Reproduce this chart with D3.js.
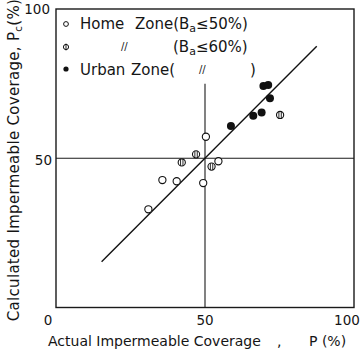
<!DOCTYPE html>
<html>
<head>
<meta charset="utf-8">
<script src="https://cdn.jsdelivr.net/npm/d3@7"></script>
<style>
  body { margin: 0; background: #fff; }
  text { font-family: "DejaVu Sans", sans-serif; fill: #151515; }
</style>
</head>
<body>
<div id="chart"></div>
<script>
// home zone, Ba <= 50% (open circles)
const homeX = [50.3, 54.5, 35.7, 40.5, 49.4, 31.0];
const homeY = [57.2, 49.0, 42.7, 42.3, 41.7, 32.9];
// home zone, Ba <= 60% (hatched circles)
const home60X = [47.0, 42.2, 52.2, 75.2];
const home60Y = [51.3, 48.6, 47.2, 64.5];
// urban zone (filled circles)
const urbanX = [58.7, 66.2, 69.0, 71.8, 69.6, 71.2];
const urbanY = [60.8, 64.2, 65.3, 70.1, 74.2, 74.5];

const fitLine = [[15.3, 15.3], [87.5, 87.5]];
const xTicks = [0, 50, 100];
const yTicks = [50, 100];

const W = 361, H = 350;
const margin = {top: 9, right: 7, bottom: 42.5, left: 56};

const svg = d3.select("#chart").append("svg")
  .attr("width", W).attr("height", H);

const x = d3.scaleLinear().domain([0, 100]).range([margin.left, W - margin.right]);
const y = d3.scaleLinear().domain([0, 100]).range([H - margin.bottom, margin.top]);

// frame
svg.append("rect")
  .attr("x", x(0)).attr("y", y(100))
  .attr("width", x(100) - x(0)).attr("height", y(0) - y(100))
  .attr("fill", "none").attr("stroke", "#1a1a1a").attr("stroke-width", 1.4);

// 50% cross lines
svg.append("line")
  .attr("x1", x(0)).attr("x2", x(100)).attr("y1", y(50)).attr("y2", y(50))
  .attr("stroke", "#1a1a1a").attr("stroke-width", 1.1);
svg.append("line")
  .attr("x1", x(50)).attr("x2", x(50)).attr("y1", y(0)).attr("y2", y(75))
  .attr("stroke", "#1a1a1a").attr("stroke-width", 1.1);

// fitted line
svg.append("path")
  .datum(fitLine)
  .attr("d", d3.line().x(d => x(d[0])).y(d => y(d[1])))
  .attr("stroke", "#111").attr("stroke-width", 1.4).attr("fill", "none");

// tick labels
const xNudge = {0: -8, 50: 0, 100: -7};
svg.selectAll(".xt").data(xTicks).join("text")
  .attr("x", d => x(d) + xNudge[d]).attr("y", 325)
  .attr("text-anchor", "middle").attr("font-size", 13.5)
  .text(d => d);
svg.selectAll(".yt").data(yTicks).join("text")
  .attr("x", d => x(0) - (d === 100 ? 6 : 4)).attr("y", d => y(d) + (d === 100 ? 5 : 7))
  .attr("text-anchor", "end").attr("font-size", 13.5)
  .text(d => d);

// axis titles
const xt = svg.append("text").attr("y", 346).attr("font-size", 14);
xt.append("tspan").attr("x", 48).text("Actual Impermeable Coverage");
xt.append("tspan").attr("x", 277).text(",");
xt.append("tspan").attr("x", 309).text("P (%)");

const yt = svg.append("text")
  .attr("transform", "translate(19,160) rotate(-90)")
  .attr("text-anchor", "middle").attr("font-size", 15).attr("letter-spacing", 0.3);
yt.append("tspan").text("Calculated Impermeable Coverage, P");
yt.append("tspan").attr("font-size", 10.5).attr("dy", 3).text("c");
yt.append("tspan").attr("dy", -3).text("(%)");

// markers
svg.append("g").selectAll("circle").data(homeX.map((v, i) => [v, homeY[i]])).join("circle")
  .attr("cx", d => x(d[0])).attr("cy", d => y(d[1])).attr("r", 3.6)
  .attr("fill", "#fff").attr("stroke", "#111").attr("stroke-width", 1.1);

const hg = svg.append("g").selectAll("g").data(home60X.map((v, i) => [v, home60Y[i]])).join("g")
  .attr("transform", d => `translate(${x(d[0])},${y(d[1])})`);
hg.append("circle").attr("r", 3.6).attr("fill", "#fff").attr("stroke", "#111").attr("stroke-width", 1.1);
hg.selectAll("line").data([-1.2, 1.2]).join("line")
  .attr("x1", d => d).attr("x2", d => d).attr("y1", -3.2).attr("y2", 3.2)
  .attr("stroke", "#111").attr("stroke-width", 0.9);

svg.append("g").selectAll("circle").data(urbanX.map((v, i) => [v, urbanY[i]])).join("circle")
  .attr("cx", d => x(d[0])).attr("cy", d => y(d[1])).attr("r", 4)
  .attr("fill", "#111");

// legend
const lg = svg.append("g");
const fs = 15;
lg.append("circle").attr("cx", 66).attr("cy", 24).attr("r", 2.4)
  .attr("fill", "#fff").attr("stroke", "#111").attr("stroke-width", 1);
const m2 = lg.append("g").attr("transform", "translate(66,47)");
m2.append("circle").attr("r", 2.6).attr("fill", "#fff").attr("stroke", "#111").attr("stroke-width", 1);
m2.append("line").attr("x1", 0).attr("x2", 0).attr("y1", -3.4).attr("y2", 3.4).attr("stroke", "#111").attr("stroke-width", 0.9);
lg.append("circle").attr("cx", 66).attr("cy", 69).attr("r", 2.6).attr("fill", "#111");

function baText(t, xPos, yPos, pre, post) {
  t.append("tspan").attr("x", xPos).attr("y", yPos).text(pre + "B");
  t.append("tspan").attr("font-size", 11).attr("dy", 3).text("a");
  t.append("tspan").attr("dy", -3).text(post);
}
const r1 = lg.append("text").attr("font-size", fs);
r1.append("tspan").attr("x", 80).attr("y", 29).text("Home");
baText(r1, 135, 29, "Zone(", "≤50%)");

const r2 = lg.append("text").attr("font-size", fs);
r2.append("tspan").attr("x", 121).attr("y", 50).attr("font-size", 10).text("//");
baText(r2, 173, 52, "(", "≤60%)");

const r3 = lg.append("text").attr("font-size", fs);
r3.append("tspan").attr("x", 80).attr("y", 75).text("Urban");
r3.append("tspan").attr("x", 131).attr("y", 75).text("Zone(");
r3.append("tspan").attr("x", 199).attr("y", 73).attr("font-size", 10).text("//");
r3.append("tspan").attr("x", 250).attr("y", 75).text(")");
</script>
</body>
</html>
